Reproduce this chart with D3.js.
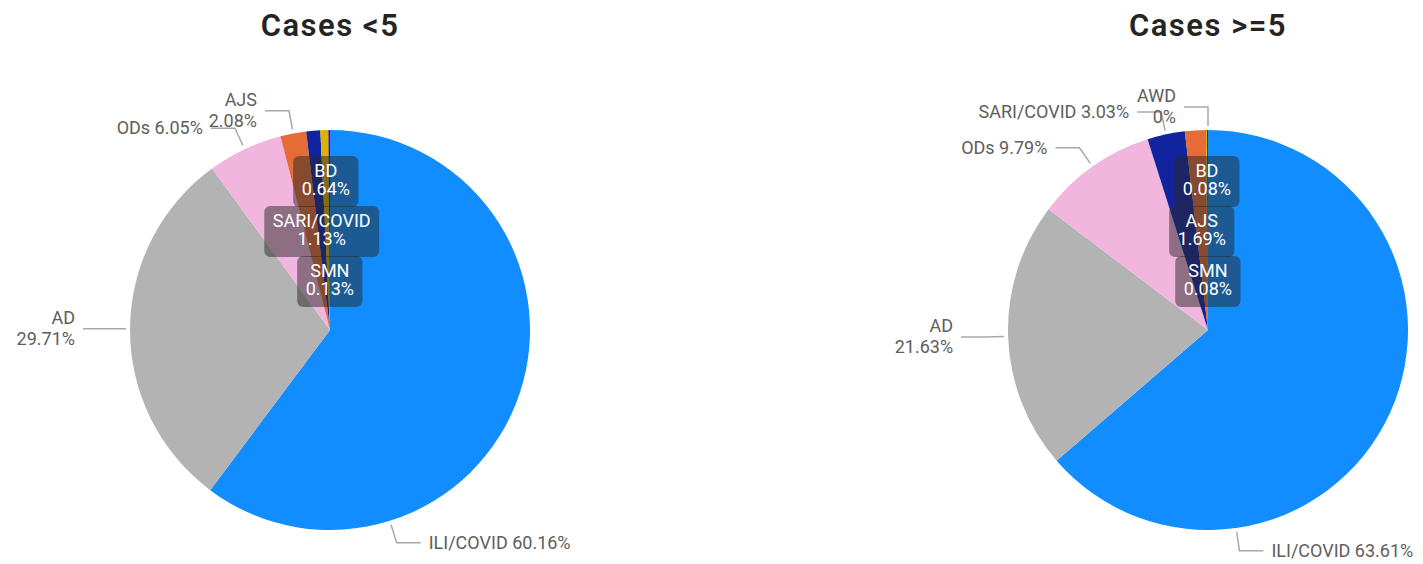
<!DOCTYPE html>
<html>
<head>
<meta charset="utf-8">
<script src="https://cdn.jsdelivr.net/npm/d3@7"></script>
<style>
  html, body { margin: 0; padding: 0; background: #ffffff; }
  svg { display: block; }
</style>
</head>
<body>
<svg id="chart" width="1423" height="564"></svg>
<script>
// ---------------- data ----------------
const titles = ["Cases <5", "Cases >=5"];

const leftCategories = ["ILI/COVID", "AD", "ODs", "AJS", "SARI/COVID", "BD", "SMN"];
const leftValues     = [60.16, 29.71, 6.05, 2.08, 1.13, 0.64, 0.13];

const rightCategories = ["ILI/COVID", "AD", "ODs", "SARI/COVID", "AJS", "BD", "SMN", "AWD"];
const rightValues     = [63.61, 21.63, 9.79, 3.03, 1.69, 0.08, 0.08, 0];

// ---------------- styles / layout ----------------
const colorDomain = ["ILI/COVID", "AD", "ODs", "AJS", "SARI/COVID", "BD", "SMN", "AWD"];
const colorRange  = ["#118DFF", "#B3B3B3", "#F2B5DD", "#E66C37", "#12239E", "#D9B300", "#6B007B", "#E044A7"];
const color = d3.scaleOrdinal().domain(colorDomain).range(colorRange);

// label mode per pie: "one" = single line outside, "two" = two lines outside, "in" = boxed inside
const leftLabelMode  = { "ILI/COVID": "one", "AD": "two", "ODs": "one", "AJS": "two",
                         "SARI/COVID": "in", "BD": "in", "SMN": "in" };
const rightLabelMode = { "ILI/COVID": "one", "AD": "two", "ODs": "one", "SARI/COVID": "one",
                         "AJS": "in", "BD": "in", "SMN": "in", "AWD": "two" };
const leftInsideOrder  = ["BD", "SARI/COVID", "SMN"];
const rightInsideOrder = ["BD", "AJS", "SMN"];
// fraction along the slice where the leader line starts (default 0.5)
const anchorFraction = { "ILI/COVID": 0.75 };

const W = 1423, H = 564;
const R = 200;
const pies = [
  { title: titles[0], cats: leftCategories,  vals: leftValues,  mode: leftLabelMode,  order: leftInsideOrder,  cx: 330,  cy: 330 },
  { title: titles[1], cats: rightCategories, vals: rightValues, mode: rightLabelMode, order: rightInsideOrder, cx: 1208, cy: 330 }
];

const svg = d3.select("#chart");
svg.append("rect").attr("width", W).attr("height", H).attr("fill", "#fff");

const fmt = v => (+v.toFixed(2)) + "%";
const FONT = "Roboto, 'DejaVu Sans', sans-serif";
const labelColor = "#605E5C";
const leaderColor = "#A8A8A8";

const pieGen = d3.pie().sort(null).value(d => d.value).startAngle(0).endAngle(2 * Math.PI);
const arcGen = d3.arc().innerRadius(0).outerRadius(R);
const polar = (a, r) => [r * Math.sin(a), -r * Math.cos(a)];

pies.forEach(p => {
  const data = p.cats.map((c, i) => ({ cat: c, value: p.vals[i] }));
  const arcs = pieGen(data);

  // title
  svg.append("text")
    .attr("x", p.cx).attr("y", 36)
    .attr("text-anchor", "middle")
    .attr("font-family", FONT)
    .attr("font-weight", 600)
    .attr("font-size", 31)
    .attr("letter-spacing", 1.5)
    .attr("fill", "#252423")
    .text(p.title);

  const g = svg.append("g").attr("transform", `translate(${p.cx},${p.cy})`);

  // slices
  g.selectAll("path.slice")
    .data(arcs)
    .join("path")
    .attr("class", "slice")
    .attr("d", arcGen)
    .attr("fill", d => color(d.data.cat));

  // outside labels with leader lines
  const r1 = R + 4, r2 = R + 23, hLen = 24, gap = 8;
  arcs.forEach(d => {
    const m = p.mode[d.data.cat];
    if (m !== "one" && m !== "two") return;
    const f = anchorFraction[d.data.cat] !== undefined ? anchorFraction[d.data.cat] : 0.5;
    const a = d.startAngle + (d.endAngle - d.startAngle) * f;
    const [x1, y1] = polar(a, r1);
    const [x2, y2] = polar(a, r2);
    const right = Math.sin(a) > 0.0001;
    const dir = right ? 1 : -1;
    const x3 = x2 + dir * hLen;
    g.append("polyline")
      .attr("points", [[x1, y1], [x2, y2], [x3, y2]].map(q => q.join(",")).join(" "))
      .attr("fill", "none")
      .attr("stroke", leaderColor)
      .attr("stroke-width", 1.5);
    const tx = x3 + dir * gap;
    const mk = (y, s) => g.append("text")
      .attr("font-family", FONT)
      .attr("font-size", 18)
      .attr("fill", labelColor)
      .attr("text-anchor", right ? "start" : "end")
      .attr("x", tx).attr("y", y).text(s);
    if (m === "one") {
      mk(y2 + 6, d.data.cat + " " + fmt(d.data.value));
    } else {
      mk(y2 - 5, d.data.cat);
      mk(y2 + 16, fmt(d.data.value));
    }
  });

  // inside boxed labels, stacked along the top, centred on each slice bisector
  const slotTop = -148.5, slotH = 50;
  p.order.forEach((cat, i) => {
    const d = arcs.find(a => a.data.cat === cat);
    const a = (d.startAngle + d.endAngle) / 2;
    const yc = slotTop + i * slotH;
    const xPos = (-yc) * Math.tan(a);
    const lg = g.append("g");
    const box = lg.append("rect");
    const mk = (y, s) => lg.append("text")
      .attr("font-family", FONT)
      .attr("font-size", 18)
      .attr("fill", "#ffffff")
      .attr("text-anchor", "middle")
      .attr("x", xPos).attr("y", y).text(s);
    const t1 = mk(yc - 4.5, cat);
    const t2 = mk(yc + 13.5, fmt(d.data.value));
    const w = Math.max(t1.node().getComputedTextLength(), t2.node().getComputedTextLength());
    const bw = w + 17;
    box.attr("x", xPos - bw / 2).attr("y", yc - 25.5)
      .attr("width", bw).attr("height", 51)
      .attr("rx", 6).attr("ry", 6)
      .attr("fill", "rgba(40,40,40,0.5)");
  });
});
</script>
</body>
</html>
